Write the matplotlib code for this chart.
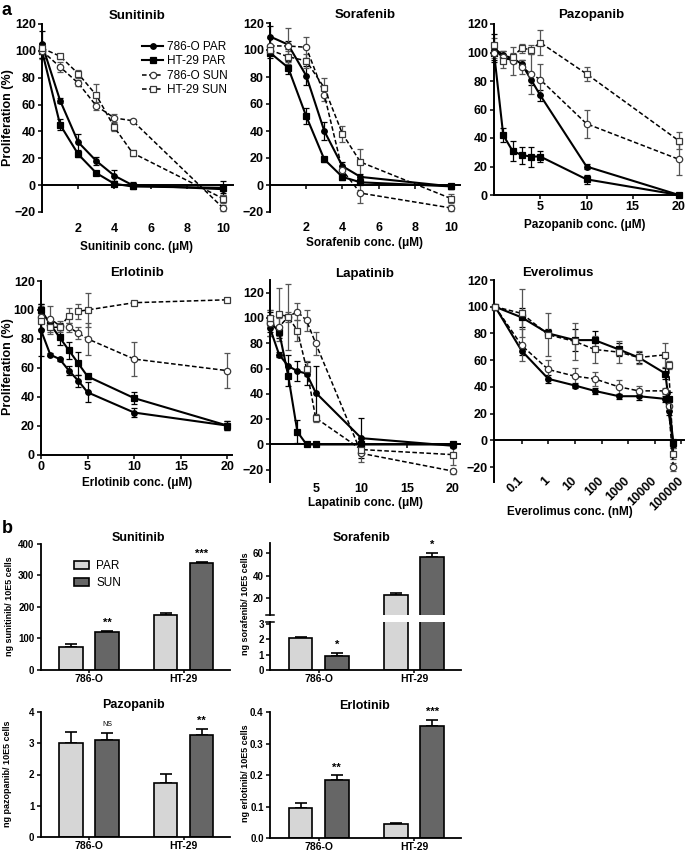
#!/usr/bin/env python
"""Drug response curves (a) and intracellular drug content (b), PAR vs SUN cells."""
import matplotlib
import numpy as np

matplotlib.use("Agg")
import matplotlib.pyplot as plt  # noqa: E402
from matplotlib.ticker import NullLocator  # noqa: E402

W, H = 685, 852  # pixels at dpi 100

plt.rcParams["font.family"] = ["Liberation Sans", "DejaVu Sans"]
plt.rcParams["font.weight"] = "bold"
plt.rcParams["axes.labelweight"] = "bold"

SERIES = ["786-O PAR", "HT-29 PAR", "786-O SUN", "HT-29 SUN"]

# ── a: proliferation (%), rows follow SERIES order ───────────────────────────
SUNI_X = [0, 1, 2, 3, 4, 5, 10]
SUNI_Y = [[105, 63, 32, 18, 7, 0, -3],
          [100, 45, 23, 9, 1, -1, -2],
          [100, 88, 76, 59, 50, 48, -17],
          [102, 96, 83, 67, 43, 24, -10]]
SUNI_ERR = [[10, 2, 6, 3, 4, 2, 3],
            [5, 4, 2, 1, 2, 2, 5],
            [6, 4, 2, 3, 3, 1, 2],
            [4, 2, 3, 8, 3, 2, 3]]

SORA_X = [0, 1, 2, 3, 4, 5, 10]
SORA_Y = [[110, 104, 81, 40, 14, 6, -1],
          [98, 87, 51, 19, 6, 2, -1],
          [103, 103, 102, 67, 11, -6, -17],
          [100, 95, 92, 72, 38, 17, -10]]
SORA_ERR = [[8, 3, 7, 7, 3, 2, 2],
            [4, 5, 6, 2, 2, 1, 2],
            [6, 13, 8, 5, 3, 7, 2],
            [4, 4, 5, 7, 6, 10, 3]]

PAZO_X = [0, 1, 2, 3, 4, 5, 10, 20]
PAZO_Y = [[103, 98, 96, 92, 81, 70, 20, 0],
          [100, 42, 31, 28, 27, 27, 11, 0],
          [100, 97, 94, 90, 85, 81, 50, 25],
          [105, 94, 97, 103, 102, 107, 85, 38]]
PAZO_ERR = [[10, 3, 3, 3, 4, 4, 2, 1],
            [5, 5, 7, 6, 7, 4, 3, 1],
            [4, 4, 10, 5, 14, 11, 10, 11],
            [5, 5, 3, 3, 3, 9, 5, 6]]

ERLO_X = [0, 1, 2, 3, 4, 5, 10, 20]
ERLO_Y = [[86, 69, 66, 58, 51, 43, 29, 20],
          [100, 90, 81, 72, 63, 54, 39, 20],
          [95, 94, 89, 88, 84, 80, 66, 58],
          [92, 88, 88, 96, 99, 100, 105, 107]]
ERLO_ERR = [[18, 1, 1, 3, 4, 7, 3, 3],
            [4, 3, 5, 6, 8, 2, 4, 3],
            [8, 9, 3, 3, 4, 11, 12, 12],
            [5, 5, 3, 5, 5, 12, 1, 1]]

LAPA_X = [0, 1, 2, 3, 4, 5, 10, 20]
LAPA_Y = [[92, 71, 62, 58, 56, 41, 5, -1],
          [97, 89, 54, 10, 0, 0, 0, 0],
          [96, 93, 101, 105, 98, 80, -7, -21],
          [100, 103, 101, 90, 60, 21, -4, -8]]
LAPA_ERR = [[6, 2, 9, 8, 9, 21, 16, 2],
            [8, 5, 8, 9, 1, 1, 1, 1],
            [10, 7, 26, 7, 8, 9, 7, 2],
            [6, 21, 4, 8, 6, 3, 4, 8]]

EVER_X = [0.01, 0.1, 1, 10, 55, 450, 2500, 25000, 33000, 50000]
EVER_Y = [[100, 67, 46, 41, 37, 33, 33, 31, 22, -3],
          [100, 92, 80, 75, 75, 68, 62, 50, 31, -2],
          [100, 71, 53, 48, 46, 40, 37, 37, 26, -20],
          [100, 95, 79, 74, 68, 66, 62, 64, 56, -10]]
EVER_ERR = [[1, 3, 3, 2, 2, 2, 3, 2, 3, 3],
            [1, 7, 3, 8, 7, 5, 4, 4, 5, 3],
            [1, 12, 7, 6, 5, 5, 4, 2, 4, 3],
            [1, 18, 16, 14, 10, 8, 5, 9, 3, 4]]
EVER_TICKS = [0.1, 1, 10, 100, 1000, 10000, 100000]
EVER_TICKLABELS = ["0.1", "1", "10", "100", "1000", "10000", "100000"]

# ── b: ng drug / 10E5 cells ──────────────────────────────────────────────────
CELL_LINES = ["786-O", "HT-29"]
SUNI_PAR, SUNI_PAR_ERR = [72, 174], [10, 6]
SUNI_SUN, SUNI_SUN_ERR = [120, 339], [4, 4]
SUNI_SIG = ["**", "***"]
SORA_PAR, SORA_PAR_ERR = [2.08, 23], [0.08, 2]
SORA_SUN, SORA_SUN_ERR = [0.92, 56.5], [0.2, 4]
SORA_SIG = ["*", "*"]
PAZO_PAR, PAZO_PAR_ERR = [3.0, 1.72], [0.35, 0.3]
PAZO_SUN, PAZO_SUN_ERR = [3.1, 3.25], [0.21, 0.2]
PAZO_SIG = ["NS", "**"]
ERLO_PAR, ERLO_PAR_ERR = [0.097, 0.045], [0.015, 0.005]
ERLO_SUN, ERLO_SUN_ERR = [0.185, 0.356], [0.015, 0.02]
ERLO_SIG = ["**", "***"]

STYLE = {
    "786-O PAR": dict(marker="o", ms=4.0, mfc="k", mec="k", ls="-", lw=1.5, ecolor="k"),
    "HT-29 PAR": dict(marker="s", ms=4.0, mfc="k", mec="k", ls="-", lw=1.5, ecolor="k"),
    "786-O SUN": dict(marker="o", ms=4.6, mfc="white", mec="#3a3a3a", ls=(0, (3, 1.6)), lw=1.1,
                      ecolor="#555555"),
    "HT-29 SUN": dict(marker="s", ms=4.6, mfc="white", mec="#3a3a3a", ls=(0, (3, 1.6)), lw=1.1,
                      ecolor="#555555"),
}
PAR_C, SUN_C = "#d6d6d6", "#666666"
BW, OFF = 0.25, 0.19

fig = plt.figure(figsize=(W / 100, H / 100), dpi=100)


def fx(px):
    return px / W


def fy(py):
    return 1 - py / H


def add_ax(left, top, right, bottom):
    return fig.add_axes([fx(left), fy(bottom), (right - left) / W, (bottom - top) / H])


def ftext(px, py, s, **kw):
    kw.setdefault("ha", "center")
    kw.setdefault("va", "center")
    fig.text(fx(px), fy(py), s, **kw)


def style_axes(ax, lw=1.4, size=9):
    for s in ("top", "right"):
        ax.spines[s].set_visible(False)
    for s in ("left", "bottom"):
        ax.spines[s].set_linewidth(lw)
    ax.tick_params(direction="out", length=3, width=1.1, labelsize=size, pad=1.5)


def curve_panel(rect, x, ys, errs, xlim, ylim, yticks, xticks, xticklabels=None,
                zero_line=True, pad=3, log=False, rot=0):
    ax = add_ax(*rect)
    for name, y, e in zip(SERIES, ys, errs):
        st = STYLE[name]
        eb = ax.errorbar(x, y, yerr=e, fmt="none", ecolor=st["ecolor"], elinewidth=0.9,
                         capsize=2.3, capthick=0.9, zorder=2)
        for art in eb.get_children():
            art.set_clip_on(False)
        ax.plot(x, y, color="k", ls=st["ls"], lw=st["lw"], marker=st["marker"], ms=st["ms"],
                mfc=st["mfc"], mec=st["mec"], mew=0.9, label=name, clip_on=False, zorder=3)
    if log:
        ax.set_xscale("log")
    ax.set_xlim(xlim)
    ax.set_ylim(ylim)
    ax.set_yticks(yticks)
    style_axes(ax)
    ax.xaxis.set_minor_locator(NullLocator())
    labels = xticklabels if xticklabels is not None else [str(t) for t in xticks]
    ax.set_xticks(xticks)
    if zero_line:
        ax.spines["bottom"].set_position(("data", 0))
        ax.tick_params(axis="x", labelbottom=False)
        sec = ax.secondary_xaxis("bottom")
        sec.spines["bottom"].set_visible(False)
        sec.xaxis.set_minor_locator(NullLocator())
        if rot:
            sec.set_xticks(xticks, labels=labels, rotation=rot, ha="right",
                           rotation_mode="anchor", va="center")
        else:
            sec.set_xticks(xticks, labels=labels)
        sec.tick_params(length=0, labelsize=9, pad=pad)
    else:
        ax.set_xticklabels(labels)
    return ax


# ── a ────────────────────────────────────────────────────────────────────────
ax = curve_panel((42, 24, 233, 212), SUNI_X, SUNI_Y, SUNI_ERR, (0, 10.55), (-20, 120),
                 range(-20, 121, 20), [2, 4, 6, 8, 10], pad=8)
ax.legend(loc="upper left", bbox_to_anchor=(fx(142), fy(41)), bbox_transform=fig.transFigure,
          frameon=False, prop={"weight": "normal", "size": 8.5}, handlelength=1.8,
          handletextpad=0.3, labelspacing=0.2, borderpad=0, borderaxespad=0)
curve_panel((270, 23, 460, 212), SORA_X, SORA_Y, SORA_ERR, (0, 10.5), (-20, 120),
            range(-20, 121, 20), [2, 4, 6, 8, 10], pad=7)
curve_panel((494, 24, 679, 195), PAZO_X, PAZO_Y, PAZO_ERR, (0, 20), (0, 120),
            range(0, 121, 20), [5, 10, 15, 20], zero_line=False)
curve_panel((41, 281, 232, 454.5), ERLO_X, ERLO_Y, ERLO_ERR, (0, 20.5), (0, 120),
            range(0, 121, 20), [0, 5, 10, 15, 20], zero_line=False)
curve_panel((270, 280, 460, 481.7), LAPA_X, LAPA_Y, LAPA_ERR, (0, 20.8), (-29.4, 130),
            range(-20, 121, 20), [5, 10, 15, 20], pad=1)
curve_panel((494, 280, 684, 481.7), EVER_X, EVER_Y, EVER_ERR, (0.0091, 1.26e5), (-31, 120),
            range(-20, 121, 20), EVER_TICKS, EVER_TICKLABELS, log=True, pad=-2, rot=45)

for (px, py), s in zip([(137, 16), (365, 15), (591, 15), (137, 273), (365, 274), (558, 273)],
                       ["Sunitinib", "Sorafenib", "Pazopanib", "Erlotinib", "Lapatinib",
                        "Everolimus"]):
    ftext(px, py, s, fontsize=9.5)
for (px, py), s in zip([(137, 247), (365, 243), (585, 225), (137, 483), (365, 503), (570, 512)],
                       ["Sunitinib conc. (\u03bcM)", "Sorafenib conc. (\u03bcM)",
                        "Pazopanib conc. (\u03bcM)", "Erlotinib conc. (\u03bcM)",
                        "Lapatinib conc. (\u03bcM)", "Everolimus conc. (nM)"]):
    ftext(px, py, s, fontsize=8.5)
ftext(8, 118, "Proliferation (%)", fontsize=9, rotation=90)
ftext(8, 367, "Proliferation (%)", fontsize=9, rotation=90)
ftext(2, 2, "a", fontsize=13, ha="left", va="top")
ftext(2, 520, "b", fontsize=13, ha="left", va="top")


# ── b ────────────────────────────────────────────────────────────────────────
def bars(ax, par, par_err, sun, sun_err):
    pos = np.arange(len(CELL_LINES))
    ax.bar(pos - OFF, par, BW, color=PAR_C, edgecolor="k", lw=1.2, label="PAR", zorder=2)
    ax.bar(pos + OFF, sun, BW, color=SUN_C, edgecolor="k", lw=1.2, label="SUN", zorder=2)
    for xs, v, e in ((pos - OFF, par, par_err), (pos + OFF, sun, sun_err)):
        ax.errorbar(xs, v, yerr=[np.zeros(len(v)), e], fmt="none", ecolor="k", elinewidth=1.2,
                    capsize=4.5, capthick=1.2, zorder=1)
    ax.set_xlim(-0.51, 1.49)
    style_axes(ax, lw=1.3, size=7)
    ax.tick_params(axis="x", labelsize=7.5, pad=0.5, length=2.5)
    return pos


def stars(ax, xs, tops, sig):
    for x, t, s in zip(xs, tops, sig):
        small = s == "NS"
        ax.annotate(s, (x, t), xytext=(0, 4 if small else 2), textcoords="offset points",
                    ha="center", va="bottom", fontsize=5 if small else 8,
                    fontweight="normal" if small else "bold", annotation_clip=False)


def bar_panel(rect, par, par_err, sun, sun_err, ylim, yticks, sig, fmt="{:g}"):
    ax = add_ax(*rect)
    pos = bars(ax, par, par_err, sun, sun_err)
    ax.set_ylim(ylim)
    ax.set_yticks(yticks, labels=[fmt.format(t) for t in yticks])
    ax.set_xticks(pos, labels=CELL_LINES)
    stars(ax, pos + OFF, np.add(sun, sun_err), sig)
    return ax


ax = bar_panel((40.7, 543.5, 230, 670), SUNI_PAR, SUNI_PAR_ERR, SUNI_SUN, SUNI_SUN_ERR,
               (0, 400), [0, 100, 200, 300, 400], SUNI_SIG)
ax.legend(loc="upper left", bbox_to_anchor=(fx(74), fy(560)), bbox_transform=fig.transFigure,
          frameon=False, prop={"weight": "normal", "size": 8.5}, handlelength=1.3,
          handleheight=0.6, handletextpad=0.6, labelspacing=0.45, borderpad=0, borderaxespad=0)

# sorafenib uses a broken y axis (GraphPad style)
ax_hi = add_ax(270, 543.3, 461, 615)
ax_lo = add_ax(270, 621.5, 461, 670)
for a in (ax_hi, ax_lo):
    pos = bars(a, SORA_PAR, SORA_PAR_ERR, SORA_SUN, SORA_SUN_ERR)
ax_hi.set_ylim(5.2, 68.9)
ax_hi.set_yticks([20, 40, 60])
ax_hi.spines["bottom"].set_visible(False)
ax_hi.set_xticks([])
ax_lo.set_ylim(0, 3.13)
ax_lo.set_yticks([0, 1, 2, 3])
ax_lo.set_xticks(pos, labels=CELL_LINES)
ax_hi.plot([-0.02, 0.02], [0, 0], transform=ax_hi.transAxes, color="k", lw=1.1, clip_on=False)
ax_lo.plot([-0.02, 0.02], [1, 1], transform=ax_lo.transAxes, color="k", lw=1.1, clip_on=False)
stars(ax_lo, pos[:1] + OFF, [SORA_SUN[0] + SORA_SUN_ERR[0]], SORA_SIG[:1])
stars(ax_hi, pos[1:] + OFF, [SORA_SUN[1] + SORA_SUN_ERR[1]], SORA_SIG[1:])

bar_panel((40.7, 711.7, 230, 837.3), PAZO_PAR, PAZO_PAR_ERR, PAZO_SUN, PAZO_SUN_ERR,
          (0, 4), [0, 1, 2, 3, 4], PAZO_SIG)
bar_panel((270, 712.3, 461, 838.3), ERLO_PAR, ERLO_PAR_ERR, ERLO_SUN, ERLO_SUN_ERR,
          (0, 0.4), [0.0, 0.1, 0.2, 0.3, 0.4], ERLO_SIG, fmt="{:.1f}")

for (px, py), s in zip([(138, 538), (362, 538), (133, 705), (365, 706)],
                       ["Sunitinib", "Sorafenib", "Pazopanib", "Erlotinib"]):
    ftext(px, py, s, fontsize=9)
for (px, py), s in zip([(10, 606), (246, 604), (8, 774), (245, 773)],
                       ["ng sunitinib/ 10E5 cells", "ng sorafenib/ 10E5 cells",
                        "ng pazopanib/ 10E5 cells", "ng erlotinib/ 10E5 cells"]):
    ftext(px, py, s, fontsize=6.5, rotation=90)

fig.savefig("out.png", dpi=100)
